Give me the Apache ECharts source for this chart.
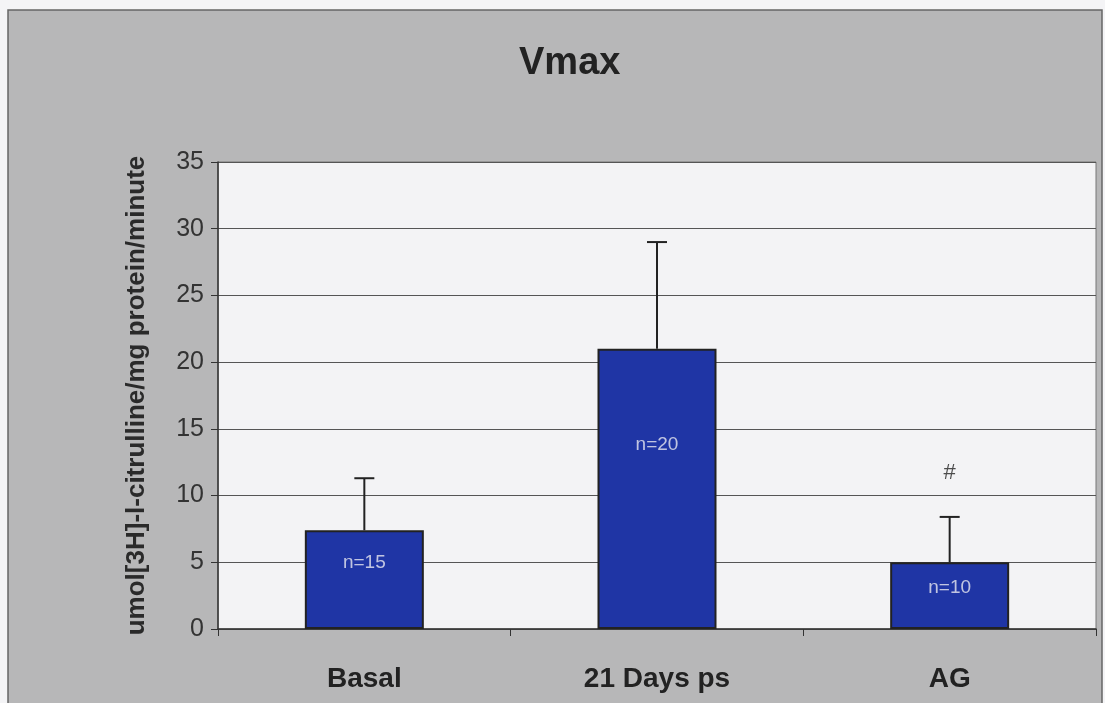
<!DOCTYPE html>
<html>
<head>
<meta charset="utf-8">
<script src="https://cdn.jsdelivr.net/npm/echarts@6/dist/echarts.min.js"></script>
<style>
html, body { margin: 0; padding: 0; background: #f4f4f6; }
#main { width: 1105px; height: 703px; }
</style>
</head>
<body>
<div id="main"></div>
<script>
// data
var categories = ["Basal", "21 Days ps", "AG"];
var means = [7.4, 21.0, 5.0];
var errTops = [11.3, 29.0, 8.4];
var nLabels = ["n=15", "n=20", "n=10"];
var nLabelY = [5.0, 13.8, 3.1];
var markText = ["", "", "#"];
var markY = [null, null, 11.7];

var chart = echarts.init(document.getElementById("main"));

function errItem(params, api) {
	var x = api.value(0);
	var lo = api.coord([x, api.value(1)]);
	var hi = api.coord([x, api.value(2)]);
	var cap = 10;
	var st = { stroke: "#222", lineWidth: 2 };
	return {
		type: "group",
		children: [
			{ type: "line", shape: { x1: lo[0], y1: lo[1], x2: hi[0], y2: hi[1] }, style: st },
			{ type: "line", shape: { x1: hi[0] - cap, y1: hi[1], x2: hi[0] + cap, y2: hi[1] }, style: st }
		]
	};
}

var errData = [], labelData = [], markData = [];
for (var i = 0; i < categories.length; i++) {
	errData.push([i, means[i], errTops[i]]);
	labelData.push({ value: [i, nLabelY[i]], label: { formatter: nLabels[i] } });
	if (markY[i] != null) {
		markData.push({ value: [i, markY[i]], label: { formatter: markText[i] } });
	}
}

var option = {
	backgroundColor: "#f4f4f6",
	animation: false,
	graphic: [{
		type: "rect",
		z: -10,
		shape: { x: 8, y: 10, width: 1094, height: 700 },
		style: { fill: "#b7b7b8", stroke: "#666", lineWidth: 1.5 }
	}],
	title: {
		text: "Vmax",
		left: 514,
		top: 40,
		textStyle: { fontFamily: "Liberation Sans", fontSize: 38, fontWeight: "bold", color: "#222" }
	},
	grid: {
		left: 218, right: 9, top: 162, bottom: 74,
		show: true,
		backgroundColor: "#f3f3f5",
		borderColor: "#777",
		borderWidth: 1
	},
	xAxis: {
		type: "category",
		data: categories,
		axisLine: { lineStyle: { color: "#333", width: 1.5 } },
		axisTick: { show: true, length: 7, lineStyle: { color: "#333" } },
		axisLabel: {
			margin: 36,
			fontFamily: "Liberation Sans", fontSize: 28, fontWeight: "bold", color: "#222"
		}
	},
	yAxis: {
		type: "value",
		min: 0, max: 35, interval: 5,
		name: "umol[3H]-l-citrulline/mg protein/minute",
		nameLocation: "middle",
		nameGap: 68,
		nameTextStyle: { fontFamily: "Liberation Sans", fontSize: 26, fontWeight: "bold", color: "#2a2a2a" },
		axisLine: { show: true, lineStyle: { color: "#333", width: 1.5 } },
		axisTick: { show: true, length: 7, lineStyle: { color: "#333" } },
		axisLabel: { margin: 14, fontFamily: "Liberation Sans", fontSize: 25, color: "#333" },
		splitLine: { lineStyle: { color: "#555", width: 1 } }
	},
	series: [
		{
			type: "bar",
			data: means,
			barWidth: 119,
			itemStyle: { color: "#1f35a5", borderColor: "#222", borderWidth: 2 },
			z: 2
		},
		{
			type: "custom",
			data: errData,
			renderItem: errItem,
			z: 3
		},
		{
			type: "scatter",
			data: labelData,
			symbolSize: 0,
			label: { show: true, position: "inside", color: "#e8e8f0", fontFamily: "Liberation Sans", fontSize: 19 },
			z: 4
		},
		{
			type: "scatter",
			data: markData,
			symbolSize: 0,
			label: { show: true, position: "inside", color: "#222", fontFamily: "Liberation Sans", fontSize: 22 },
			z: 4
		}
	]
};

chart.setOption(option);
</script>
</body>
</html>
